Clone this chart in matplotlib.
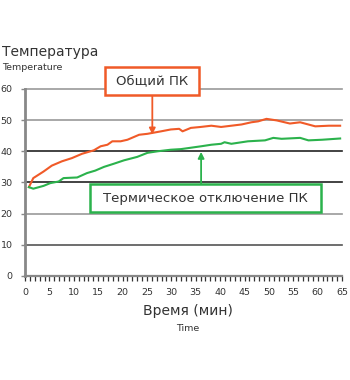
import matplotlib
matplotlib.use("Agg")
import matplotlib.pyplot as plt
from matplotlib.patches import Rectangle
from matplotlib.ticker import MultipleLocator

plt.rcParams['font.family'] = ['DejaVu Sans']

# Temperature of a standard PC vs. a PC with thermal shutdown (°C over minutes)
t_general = [0.8, 1.7, 3.8, 5.5, 7.6, 9.6, 11.7, 14.1, 15.5, 16.9, 17.9, 19.6, 21.0,
             23.4, 25.1, 27.9, 29.9, 31.6, 32.3, 34.0, 36.0, 38.2, 40.2, 42.3, 44.4,
             46.4, 47.8, 49.5, 51.6, 54.3, 56.4, 59.5, 62.3, 64.6]
temp_general = [28.5, 31.4, 33.5, 35.4, 36.8, 37.8, 39.2, 40.3, 41.6, 42.1, 43.2, 43.2,
                43.7, 45.3, 45.6, 46.4, 47.0, 47.2, 46.4, 47.5, 47.8, 48.2, 47.8, 48.2,
                48.6, 49.3, 49.6, 50.4, 49.9, 48.9, 49.3, 48.0, 48.2, 48.2]

t_shutdown = [0.8, 1.7, 3.8, 5.2, 6.9, 7.9, 10.7, 12.7, 14.4, 16.2, 18.2, 20.3, 23.0,
              25.1, 27.2, 29.9, 32.0, 36.1, 38.2, 40.2, 40.9, 42.3, 45.7, 49.2, 50.9,
              52.6, 56.4, 58.1, 60.9, 64.6]
temp_shutdown = [28.5, 28.0, 28.9, 29.8, 30.3, 31.4, 31.6, 33.0, 33.8, 35.0, 36.0, 37.1,
                 38.2, 39.5, 40.0, 40.5, 40.7, 41.6, 42.1, 42.4, 42.9, 42.4, 43.2, 43.5,
                 44.3, 44.0, 44.3, 43.5, 43.7, 44.1]

y_ticks = [0, 10, 20, 30, 40, 50, 60]
x_ticks = list(range(0, 70, 5))
label_general = "Общий ПК"
label_shutdown = "Термическое отключение ПК"

ORANGE = "#F05A28"
GREEN = "#2BB24C"
TEXT = "#333333"

fig = plt.figure(figsize=(3.5, 3.8), dpi=100)
ax = fig.add_axes([0.0714, 0.2737, 0.906, 0.4923])

grid_colors = {0: "#999999", 10: "#555555", 20: "#999999", 30: "#222222",
               40: "#222222", 50: "#999999", 60: "#999999"}
for yv in y_ticks[1:]:
    ax.axhline(yv, color=grid_colors[yv], lw=1.2, zorder=1, clip_on=False)

ax.plot(t_general, temp_general, color=ORANGE, lw=1.5, zorder=3)
ax.plot(t_shutdown, temp_shutdown, color=GREEN, lw=1.5, zorder=3)

ax.set_xlim(0, 65)
ax.set_ylim(0, 60)
ax.set_xticks(x_ticks)
ax.set_yticks(y_ticks)
ax.xaxis.set_minor_locator(MultipleLocator(1))
ax.tick_params(axis='x', which='both', direction='out', length=3.5, width=0.9,
               color="#333333", labelsize=6.8, labelcolor=TEXT, pad=5)
ax.tick_params(axis='y', which='major', direction='out', length=3, width=1.0,
               color="#888888", labelsize=6.8, labelcolor=TEXT, pad=6)

for side in ("top", "right"):
    ax.spines[side].set_visible(False)
ax.spines["left"].set_color("#888888")
ax.spines["left"].set_linewidth(2.0)
ax.spines["bottom"].set_color("#888888")
ax.spines["bottom"].set_linewidth(1.6)
ax.patch.set_visible(False)

# Axis titles
fig.text(0.006, 0.853, "Температура", fontsize=10, color=TEXT, ha="left", va="baseline")
fig.text(0.006, 0.815, "Temperature", fontsize=6.8, color=TEXT, ha="left", va="baseline")
fig.text(0.537, 0.170, "Время (мин)", fontsize=10, color=TEXT, ha="center", va="baseline")
fig.text(0.537, 0.128, "Time", fontsize=6.8, color=TEXT, ha="center", va="baseline")


def callout(x0, x1, y0, y1, text, color):
    """Framed label drawn as a white rectangle with a coloured outline."""
    ax.add_patch(Rectangle((x0, y0), x1 - x0, y1 - y0, fc="white", ec=color,
                           lw=1.8, zorder=5, clip_on=False))
    ax.text((x0 + x1) / 2, (y0 + y1) / 2, text, fontsize=9.5, color=TEXT,
            ha="center", va="center", zorder=6, clip_on=False)


# Callouts
ax.annotate("", xy=(26.1, 45.4), xytext=(26.1, 58.2),
            arrowprops=dict(arrowstyle="-|>", color=ORANGE, lw=1.3,
                            mutation_scale=9, shrinkA=0, shrinkB=0), zorder=4)
callout(16.5, 35.7, 58.2, 66.9, label_general, ORANGE)

ax.annotate("", xy=(36.1, 39.8), xytext=(36.1, 29.6),
            arrowprops=dict(arrowstyle="-|>", color=GREEN, lw=1.3,
                            mutation_scale=9, shrinkA=0, shrinkB=0), zorder=4)
callout(13.4, 60.7, 20.4, 29.6, label_shutdown, GREEN)

fig.savefig("out.png", dpi=100)
